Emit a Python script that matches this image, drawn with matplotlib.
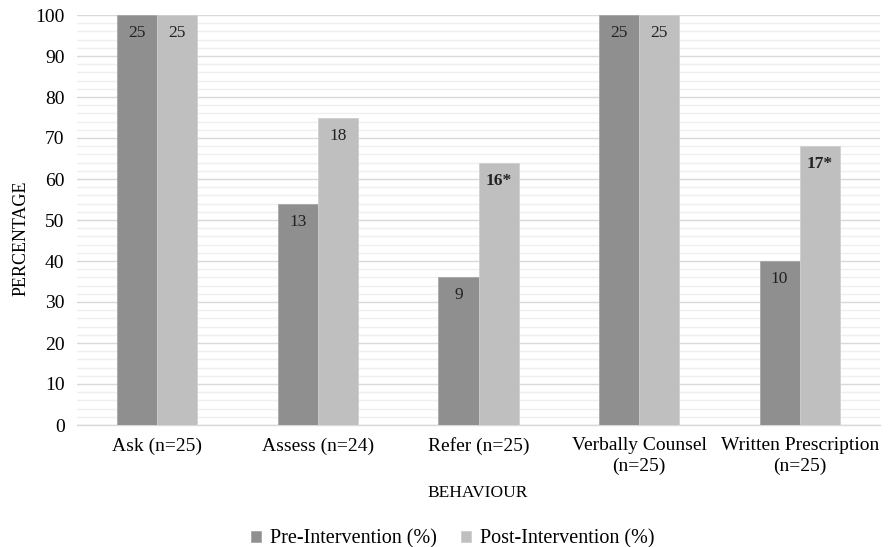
import numpy as np
import matplotlib.pyplot as plt
from matplotlib.ticker import MultipleLocator

# chart data
categories = ["Ask (n=25)", "Assess (n=24)", "Refer (n=25)",
              "Verbally Counsel\n(n=25)", "Written Prescription\n(n=25)"]
pre_pct = [100, 54, 36, 100, 40]
post_pct = [100, 75, 64, 100, 68]
pre_counts = ["25", "13", "9", "25", "10"]
post_counts = ["25", "18", "16*", "25", "17*"]
post_bold = [False, False, True, False, True]

plt.rcParams["font.family"] = ["Liberation Serif", "DejaVu Serif"]

W, H = 891, 547
fig = plt.figure(figsize=(W / 100, H / 100), dpi=100)
ax = fig.add_axes([77 / W, 1 - 425 / H, 803 / W, 410 / H])

x = np.arange(len(categories))
w = 0.25
pre_color = "#8f8f8f"
post_color = "#bfbfbf"

ax.bar(x - w / 2, pre_pct, w, color=pre_color, edgecolor="#a8a8a8", linewidth=0.6,
       label="Pre-Intervention (%)", zorder=3)
ax.bar(x + w / 2, post_pct, w, color=post_color, edgecolor="#cfcfcf", linewidth=0.6,
       label="Post-Intervention (%)", zorder=3)

for i in range(len(categories)):
    ax.annotate(pre_counts[i], (x[i] - w / 2, pre_pct[i]), xytext=(0, -18),
                textcoords="offset pixels", ha="center", va="center",
                fontsize=12.5, color="#222222", zorder=4)
    ax.annotate(post_counts[i], (x[i] + w / 2, post_pct[i]), xytext=(0, -18),
                textcoords="offset pixels", ha="center", va="center", fontsize=12.5,
                color="#222222", fontweight="bold" if post_bold[i] else "normal", zorder=4)

ax.set_xlim(-0.5, len(categories) - 0.5)
ax.set_ylim(0, 100)
ax.yaxis.set_major_locator(MultipleLocator(10))
ax.yaxis.set_minor_locator(MultipleLocator(2))
ax.grid(axis="y", which="major", color="#d9d9d9", linewidth=1.0, zorder=0)
ax.grid(axis="y", which="minor", color="#efefef", linewidth=1.0, zorder=0)
ax.set_axisbelow(True)

for s in ["top", "right", "left"]:
    ax.spines[s].set_visible(False)
ax.spines["bottom"].set_color("#d9d9d9")
ax.spines["bottom"].set_linewidth(1.0)

ax.set_xticks(x)
ax.set_xticklabels(categories, fontsize=14, linespacing=1.25)
ax.tick_params(axis="both", which="both", length=0)
ax.tick_params(axis="y", labelsize=14, pad=9)
ax.tick_params(axis="x", pad=9)

fig.text(21 / W, 1 - 238 / H, "PERCENTAGE", rotation=90, ha="center", va="center",
         fontsize=13)
fig.text(478 / W, 1 - 493 / H, "BEHAVIOUR", ha="center", va="center", fontsize=12.5)

ax.legend(loc="center", bbox_to_anchor=(453 / W, 1 - 539 / H),
          bbox_transform=fig.transFigure, ncol=2, frameon=False,
          fontsize=14.5, handlelength=0.5, handleheight=0.5, handletextpad=0.45,
          columnspacing=1.2)

plt.savefig("out.png", dpi=100)
